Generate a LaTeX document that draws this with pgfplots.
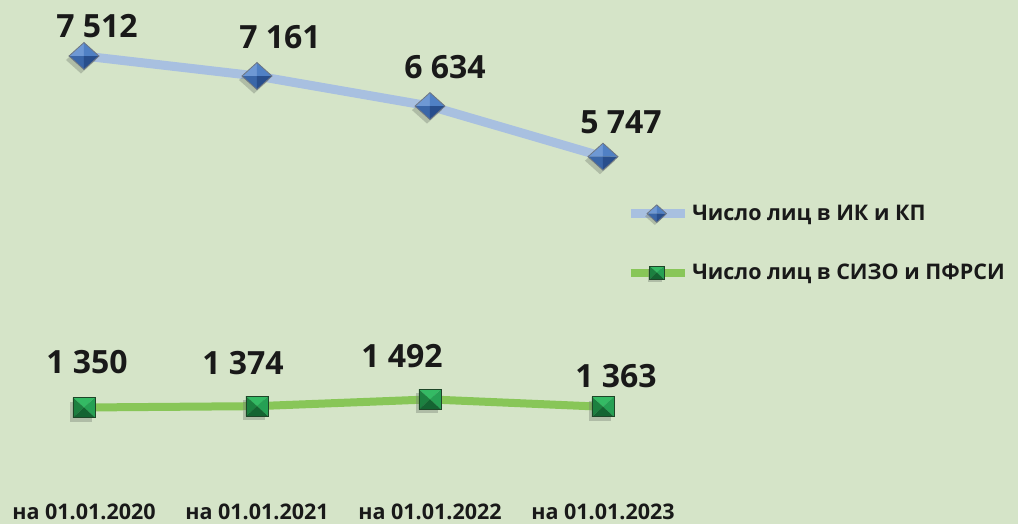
\documentclass[border=0pt]{standalone}
\usepackage{pgfplots}
\usepackage{pgfplotstable}
\pgfplotsset{compat=1.18}
\usepackage{fontspec}
\setmainfont{Open Sans}
\definecolor{bg}{RGB}{213,228,200}
\definecolor{ikline}{RGB}{168,192,224}
\definecolor{sizoline}{RGB}{136,198,88}
\definecolor{dA}{RGB}{110,152,212}
\definecolor{dB}{RGB}{80,128,196}
\definecolor{dC}{RGB}{58,102,168}
\definecolor{dD}{RGB}{40,78,140}
\definecolor{dE}{RGB}{110,118,130}
\definecolor{sA}{RGB}{52,186,100}
\definecolor{sB}{RGB}{38,160,84}
\definecolor{sC}{RGB}{28,128,64}
\definecolor{sD}{RGB}{20,100,50}
\definecolor{sE}{RGB}{30,70,40}
\definecolor{shd}{RGB}{120,130,115}

\newcommand\tri[7]{\pgfsetfillcolor{#1}%
  \pgfpathmoveto{\pgfqpoint{#2}{#3}}\pgfpathlineto{\pgfqpoint{#4}{#5}}%
  \pgfpathlineto{\pgfqpoint{#6}{#7}}\pgfpathclose\pgfusepath{fill}}

\pgfdeclareplotmark{ikdiamond}{%
  \pgfsetfillopacity{0.4}%
  \pgfsetfillcolor{shd}%
  \pgfpathmoveto{\pgfqpoint{-3pt}{9.5pt}}\pgfpathlineto{\pgfqpoint{12pt}{-4pt}}%
  \pgfpathlineto{\pgfqpoint{-3pt}{-17.5pt}}\pgfpathlineto{\pgfqpoint{-18pt}{-4pt}}%
  \pgfpathclose\pgfusepath{fill}%
  \pgfsetfillopacity{1}%
  \tri{dA}{0pt}{0pt}{-15pt}{0pt}{0pt}{13.5pt}%
  \tri{dB}{0pt}{0pt}{0pt}{13.5pt}{15pt}{0pt}%
  \tri{dC}{0pt}{0pt}{-15pt}{0pt}{0pt}{-13.5pt}%
  \tri{dD}{0pt}{0pt}{0pt}{-13.5pt}{15pt}{0pt}%
  \pgfsetstrokecolor{dE}\pgfsetlinewidth{0.8pt}\pgfsetmiterjoin%
  \pgfpathmoveto{\pgfqpoint{-15pt}{0pt}}\pgfpathlineto{\pgfqpoint{0pt}{13.5pt}}%
  \pgfpathlineto{\pgfqpoint{15pt}{0pt}}\pgfpathlineto{\pgfqpoint{0pt}{-13.5pt}}%
  \pgfpathclose\pgfusepath{stroke}%
}
\pgfdeclareplotmark{sizosquare}{%
  \pgfsetfillopacity{0.4}%
  \pgfsetfillcolor{shd}%
  \pgfpathrectangle{\pgfqpoint{-14pt}{-14pt}}{\pgfqpoint{22pt}{20pt}}\pgfusepath{fill}%
  \pgfsetfillopacity{1}%
  \tri{sA}{0pt}{0pt}{-11pt}{10pt}{11pt}{10pt}%
  \tri{sB}{0pt}{0pt}{11pt}{10pt}{11pt}{-10pt}%
  \tri{sC}{0pt}{0pt}{-11pt}{10pt}{-11pt}{-10pt}%
  \tri{sD}{0pt}{0pt}{-11pt}{-10pt}{11pt}{-10pt}%
  \pgfsetstrokecolor{sE}\pgfsetlinewidth{0.6pt}%
  \pgfpathrectangle{\pgfqpoint{-11pt}{-10pt}}{\pgfqpoint{22pt}{20pt}}\pgfusepath{stroke}%
}

\pgfplotstableread{
x y dx dy
0 7512 13 19
1 7161 23 28
2 6634 15 28
3 5747 18 23
}\ikdata
\pgfplotstableread{
x y dx dy
0 1350 3 34
1 1374 -14 32
2 1492 -28 32
3 1363 13 19
}\sizodata

\begin{document}
\begin{tikzpicture}
\begin{axis}[
  scale only axis, width=1018pt, height=524pt,
  xmin=-0.4855, xmax=5.399, ymin=-692.5, ymax=8494,
  axis background/.style={fill=bg},
  axis line style={draw=none},
  tick style={draw=none},
  ytick=\empty,
  xtick={0,1,2,3},
  xticklabels={на 01.01.2020, на 01.01.2021, на 01.01.2022, на 01.01.2023},
  xticklabel style={font=\fontsize{21.5}{21.5}\selectfont\bfseries, anchor=base, yshift=5pt, text=black!90},
  clip=false,
  /pgf/number format/.cd, 1000 sep={\ }, assume math mode=true,
  /pgfplots/.cd,
  nodes near coords,
  visualization depends on={\thisrow{dx} \as \mydx},
  visualization depends on={\thisrow{dy} \as \mydy},
  every node near coord/.append style={anchor=base, xshift=\mydx pt, yshift=\mydy pt,
     font=\fontsize{32}{32}\selectfont\bfseries, text=black!90, inner sep=0pt},
  legend style={draw=none, fill=none, at={(axis description cs:0.615,0.6145)}, anchor=north west,
     row sep=36pt, inner sep=0pt,
     nodes={inner sep=3pt, text=black!90, font=\fontsize{21.5}{21.5}\selectfont\bfseries}},
  legend cell align=left,
  legend image code/.code={%
     \path (0pt,0pt) -- (54pt,0pt);
     \draw[#1, line width=7pt] (0pt,0pt) -- (52pt,0pt);
     \draw[#1, draw=none, mark options={scale=0.65}] plot coordinates {(26pt,0pt)};
  },
]
\addplot[ikline, line width=9pt, mark=ikdiamond] table[x=x,y=y] {\ikdata};
\addlegendentry{Число лиц в ИК и КП}
\addplot[sizoline, line width=8pt, mark=sizosquare] table[x=x,y=y] {\sizodata};
\addlegendentry{Число лиц в СИЗО и ПФРСИ}
\end{axis}
\end{tikzpicture}
\end{document}
